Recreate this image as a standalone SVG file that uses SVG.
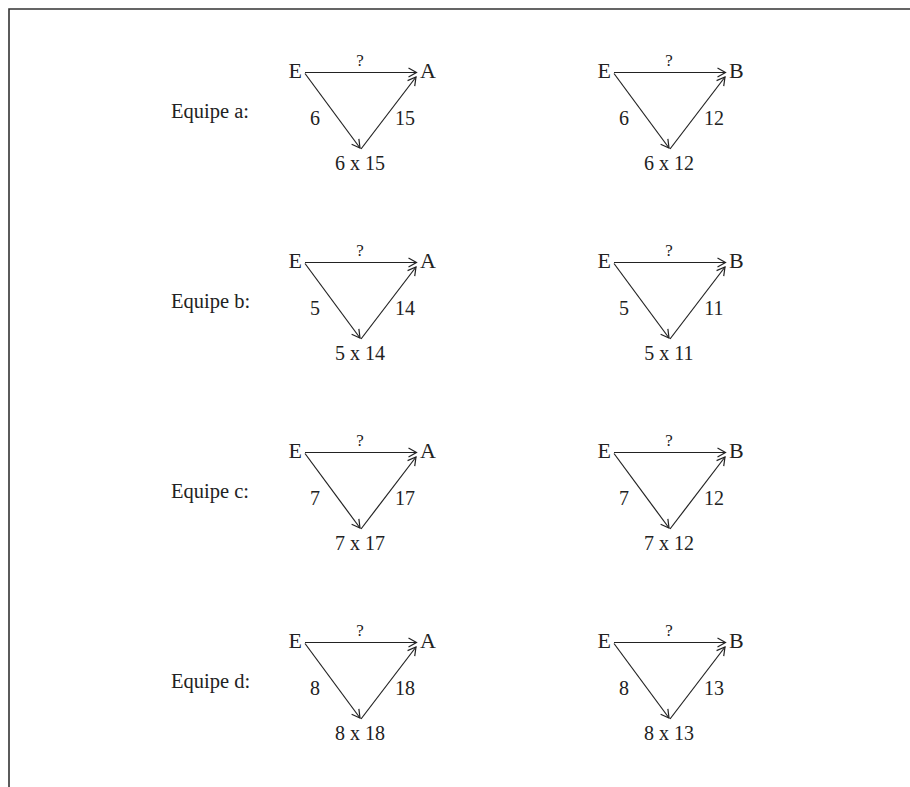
<svg xmlns="http://www.w3.org/2000/svg" xmlns:xlink="http://www.w3.org/1999/xlink" width="910" height="787" viewBox="0 0 910 787">
<style>
text{font-family:"Liberation Serif","Times New Roman",serif;font-size:20px;fill:#222}
.q{font-size:17px}
.n{font-size:22px}
.lab{font-size:20.5px}
.m{text-anchor:middle}
.e{text-anchor:end}
.c{fill:none;stroke:#222;stroke-width:1.2}
.frame{fill:none;stroke:#333;stroke-width:1.6}
</style>
<defs>
<marker id="ah" markerUnits="userSpaceOnUse" markerWidth="12" markerHeight="12" viewBox="-10 -6 12 12" refX="0" refY="0" orient="auto">
<path d="M-8,-4.5 L0,0 L-8,4.5" fill="none" stroke="#222" stroke-width="1.2"/>
</marker>
<g id="arrows">
<line class="c" x1="305" y1="72.5" x2="416.5" y2="72.5" marker-end="url(#ah)"/>
<line class="c" x1="305" y1="73.5" x2="360" y2="148" marker-end="url(#ah)"/>
<line class="c" x1="361" y1="149" x2="416" y2="77" marker-end="url(#ah)"/>
</g>
</defs>
<path class="frame" d="M9,787 V9 H910"/>
<g id="connectors">
<use xlink:href="#arrows"/>
<use xlink:href="#arrows" x="309"/>
<use xlink:href="#arrows" y="190"/>
<use xlink:href="#arrows" x="309" y="190"/>
<use xlink:href="#arrows" y="380"/>
<use xlink:href="#arrows" x="309" y="380"/>
<use xlink:href="#arrows" y="570"/>
<use xlink:href="#arrows" x="309" y="570"/>
</g>
<g id="labels">
<text class="lab" x="171" y="118">Equipe a:</text>
<text class="lab" x="171" y="308">Equipe b:</text>
<text class="lab" x="171" y="498">Equipe c:</text>
<text class="lab" x="171" y="688">Equipe d:</text>
</g>
<g id="diag-a-A">
<g id="a-A-E"><text class="e n" x="302" y="78">E</text></g>
<g id="a-A-A"><text class="n" x="420" y="78">A</text></g>
<g id="a-A-P"><text class="m" x="360" y="170">6 x 15</text></g>
<text class="m q" x="360" y="66">?</text>
<text class="m" x="315" y="125">6</text>
<text class="m" x="405" y="125">15</text>
</g>
<g id="diag-a-B" transform="translate(309,0)">
<g id="a-B-E"><text class="e n" x="302" y="78">E</text></g>
<g id="a-B-B"><text class="n" x="420" y="78">B</text></g>
<g id="a-B-P"><text class="m" x="360" y="170">6 x 12</text></g>
<text class="m q" x="360" y="66">?</text>
<text class="m" x="315" y="125">6</text>
<text class="m" x="405" y="125">12</text>
</g>
<g id="diag-b-A" transform="translate(0,190)">
<g id="b-A-E"><text class="e n" x="302" y="78">E</text></g>
<g id="b-A-A"><text class="n" x="420" y="78">A</text></g>
<g id="b-A-P"><text class="m" x="360" y="170">5 x 14</text></g>
<text class="m q" x="360" y="66">?</text>
<text class="m" x="315" y="125">5</text>
<text class="m" x="405" y="125">14</text>
</g>
<g id="diag-b-B" transform="translate(309,190)">
<g id="b-B-E"><text class="e n" x="302" y="78">E</text></g>
<g id="b-B-B"><text class="n" x="420" y="78">B</text></g>
<g id="b-B-P"><text class="m" x="360" y="170">5 x 11</text></g>
<text class="m q" x="360" y="66">?</text>
<text class="m" x="315" y="125">5</text>
<text class="m" x="405" y="125">11</text>
</g>
<g id="diag-c-A" transform="translate(0,380)">
<g id="c-A-E"><text class="e n" x="302" y="78">E</text></g>
<g id="c-A-A"><text class="n" x="420" y="78">A</text></g>
<g id="c-A-P"><text class="m" x="360" y="170">7 x 17</text></g>
<text class="m q" x="360" y="66">?</text>
<text class="m" x="315" y="125">7</text>
<text class="m" x="405" y="125">17</text>
</g>
<g id="diag-c-B" transform="translate(309,380)">
<g id="c-B-E"><text class="e n" x="302" y="78">E</text></g>
<g id="c-B-B"><text class="n" x="420" y="78">B</text></g>
<g id="c-B-P"><text class="m" x="360" y="170">7 x 12</text></g>
<text class="m q" x="360" y="66">?</text>
<text class="m" x="315" y="125">7</text>
<text class="m" x="405" y="125">12</text>
</g>
<g id="diag-d-A" transform="translate(0,570)">
<g id="d-A-E"><text class="e n" x="302" y="78">E</text></g>
<g id="d-A-A"><text class="n" x="420" y="78">A</text></g>
<g id="d-A-P"><text class="m" x="360" y="170">8 x 18</text></g>
<text class="m q" x="360" y="66">?</text>
<text class="m" x="315" y="125">8</text>
<text class="m" x="405" y="125">18</text>
</g>
<g id="diag-d-B" transform="translate(309,570)">
<g id="d-B-E"><text class="e n" x="302" y="78">E</text></g>
<g id="d-B-B"><text class="n" x="420" y="78">B</text></g>
<g id="d-B-P"><text class="m" x="360" y="170">8 x 13</text></g>
<text class="m q" x="360" y="66">?</text>
<text class="m" x="315" y="125">8</text>
<text class="m" x="405" y="125">13</text>
</g>
</svg>
